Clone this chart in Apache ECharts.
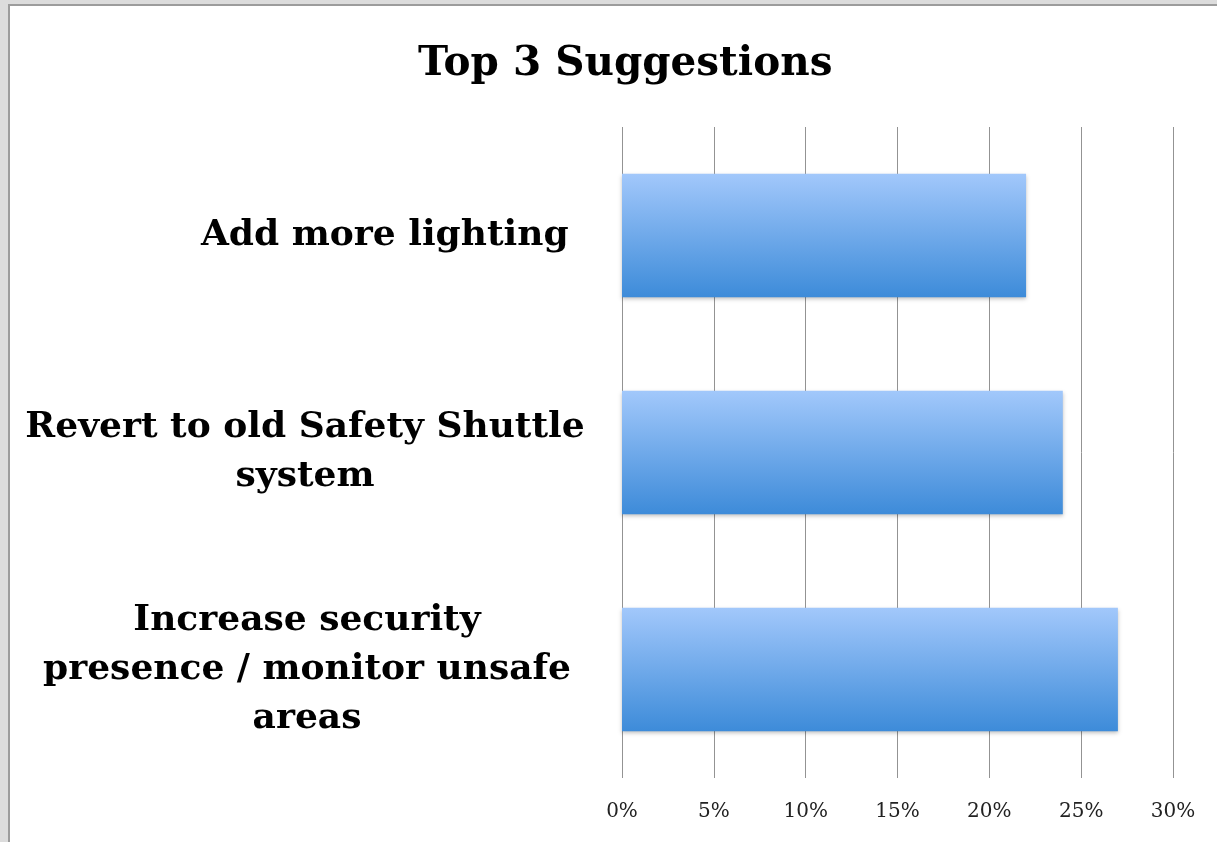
<!DOCTYPE html>
<html><head><meta charset="utf-8">
<script src="https://cdn.jsdelivr.net/npm/echarts@6/dist/echarts.min.js"></script>
<style>
html,body{margin:0;padding:0;background:#dcdcdc;width:1217px;height:842px;overflow:hidden;}
#frame{position:absolute;left:8px;top:4px;width:1230px;height:860px;background:#fff;border-left:2px solid #9c9c9c;border-top:2px solid #9c9c9c;}
#chart{position:absolute;left:0;top:0;width:1217px;height:842px;}
</style></head>
<body>
<div id="frame"></div>
<div id="chart"></div>
<script>
const titleText = 'Top 3 Suggestions';
const categories = ['Add more lighting ', 'Revert to old Safety Shuttle\nsystem', 'Increase security\npresence / monitor unsafe\nareas'];
const values = [0.22, 0.24, 0.27];
const labelShift = [172, 0, 4];
const xTicks = { min: 0, max: 0.30, interval: 0.05 };

const chart = echarts.init(document.getElementById('chart'), null, {renderer: 'canvas'});
const labelStyle = {
  align: 'center', verticalAlign: 'middle', fontFamily: 'DejaVu Serif', fontWeight: 'bold',
  fontSize: 36, lineHeight: 49, color: '#000'
};
chart.setOption({
  backgroundColor: 'transparent',
  animation: false,
  title: {
    text: titleText, left: 413, top: 39,
    textStyle: {fontFamily: 'DejaVu Serif', fontWeight: 'bold', fontSize: 40.5, color: '#000'}
  },
  grid: {left: 622, right: 44, top: 127, bottom: 64, containLabel: false, outerBoundsMode: 'none'},
  xAxis: {
    type: 'value', min: xTicks.min, max: xTicks.max, interval: xTicks.interval,
    axisLine: {show: false}, axisTick: {show: false},
    splitLine: {show: true, lineStyle: {color: '#939393', width: 1}},
    axisLabel: {
      margin: 24, fontFamily: 'DejaVu Serif', fontSize: 20, color: '#222',
      formatter: v => Math.round(v * 100) + '%'
    }
  },
  yAxis: {
    type: 'category', inverse: true,
    data: categories.map((c, i) => ({value: c, textStyle: Object.assign({}, labelStyle, {padding: [10, 0, 0, labelShift[i]]})})),
    axisLine: {show: false}, axisTick: {show: false},
    axisLabel: Object.assign({margin: 317}, labelStyle)
  },
  series: [{
    type: 'bar', data: values, barWidth: '57%',
    itemStyle: {
      color: new echarts.graphic.LinearGradient(0, 0, 0, 1, [
        {offset: 0, color: '#a2c8fb'},
        {offset: 1, color: '#3d8bd9'}
      ]),
      shadowColor: 'rgba(0,0,0,0.25)', shadowBlur: 4, shadowOffsetY: 2
    }
  }]
});
</script>
</body></html>
